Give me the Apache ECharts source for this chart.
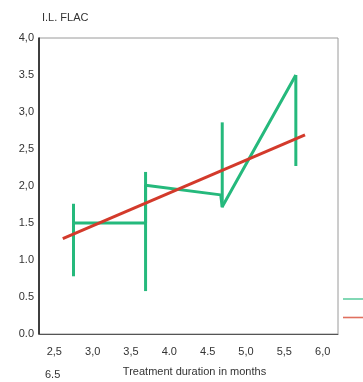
<!DOCTYPE html>
<html>
<head>
<meta charset="utf-8">
<script src="https://cdn.jsdelivr.net/npm/echarts@6/dist/echarts.min.js"></script>
<style>
  html, body { margin: 0; padding: 0; background: #fff; }
  #main { width: 363px; height: 382px; }
</style>
</head>
<body>
<div id="main"></div>
<script>
// green mean line (step-like path through the groups)
var meanX = [2.75, 3.69, 3.69, 4.67, 4.69, 5.65];
var meanY = [1.50, 1.50, 2.01, 1.88, 1.72, 3.50];

// vertical error bars
var errX = [2.75, 3.69, 4.69, 5.65];
var errLow = [0.78, 0.58, 1.71, 2.27];
var errHigh = [1.76, 2.19, 2.86, 3.50];

// red regression line
var fitX = [2.61, 5.77];
var fitY = [1.29, 2.69];

var yTicks = ['0.0', '0.5', '1.0', '1.5', '2,0', '2,5', '3,0', '3.5', '4,0'];
var xTicks = ['2,5', '3,0', '3,5', '4.0', '4.5', '5,0', '5,5', '6,0'];
var xTickVals = [2.5, 3.0, 3.5, 4.0, 4.5, 5.0, 5.5, 6.0];

var green = '#25b97c';
var red = '#d33a2b';
var font = 'Liberation Sans, Arial, sans-serif';

var chart = echarts.init(document.getElementById('main'));

chart.setOption({
    animation: false,
    textStyle: { fontFamily: font },
    title: {
        text: 'I.L. FLAC',
        left: 37,
        top: 7,
        textStyle: { fontSize: 11, fontWeight: 'normal', color: '#333' }
    },
    legend: {
        orient: 'vertical',
        left: 343,
        top: 294,
        padding: 0,
        itemWidth: 22,
        itemHeight: 10,
        itemGap: 8.5,
        icon: 'path://M0,4.2 L22,4.2 L22,5.8 L0,5.8 Z',
        textStyle: { fontSize: 10, lineHeight: 10, color: '#333' },
        data: [
            { name: 'Mean', itemStyle: { color: '#62cfa3' } },
            { name: 'Regression', itemStyle: { color: '#e0705f' } }
        ]
    },
    grid: {
        left: 39, right: 25, top: 38, bottom: 46,
        show: true,
        borderColor: '#9a9a9a',
        borderWidth: 1
    },
    xAxis: {
        type: 'value',
        min: 2.3,
        max: 6.2,
        interval: 0.1,
        name: 'Treatment duration in months',
        nameLocation: 'middle',
        nameGap: 32,
        nameTextStyle: { fontSize: 11, color: '#333', padding: [0, 0, 0, 12] },
        axisLine: { show: true, lineStyle: { color: '#555', width: 1 } },
        axisTick: { show: false },
        splitLine: { show: false },
        axisLabel: {
            fontSize: 11,
            color: '#333',
            margin: 12,
            formatter: function (v) {
                for (var i = 0; i < xTickVals.length; i++) {
                    if (Math.abs(v - xTickVals[i]) < 1e-6) return xTicks[i];
                }
                return '';
            }
        }
    },
    yAxis: {
        type: 'value',
        min: 0,
        max: 4,
        interval: 0.5,
        axisLine: { show: true, lineStyle: { color: '#111', width: 1.5 } },
        axisTick: { show: false },
        splitLine: { show: false },
        axisLabel: {
            fontSize: 11,
            color: '#333',
            margin: 5,
            formatter: function (v) { return yTicks[Math.round(v * 2)]; }
        }
    },
    graphic: [{
        type: 'text',
        left: 45,
        top: 369,
        style: { text: '6.5', fontSize: 11, fill: '#333', fontFamily: font }
    }],
    series: [{
        name: 'Regression',
        type: 'line',
        data: fitX.map(function (x, i) { return [x, fitY[i]]; }),
        showSymbol: false,
        lineStyle: { color: red, width: 3 },
        itemStyle: { color: red },
        z: 3
    }, {
        name: 'Mean',
        type: 'line',
        data: meanX.map(function (x, i) { return [x, meanY[i]]; }),
        showSymbol: false,
        lineStyle: { color: green, width: 3 },
        itemStyle: { color: green },
        z: 2
    }, {
        name: 'Error',
        type: 'custom',
        data: errX.map(function (x, i) { return [x, errLow[i], errHigh[i]]; }),
        renderItem: function (params, api) {
            var lo = api.coord([api.value(0), api.value(1)]);
            var hi = api.coord([api.value(0), api.value(2)]);
            return {
                type: 'line',
                shape: { x1: lo[0], y1: lo[1], x2: hi[0], y2: hi[1] },
                style: { stroke: green, lineWidth: 3 }
            };
        },
        z: 2
    }]
});
</script>
</body>
</html>
